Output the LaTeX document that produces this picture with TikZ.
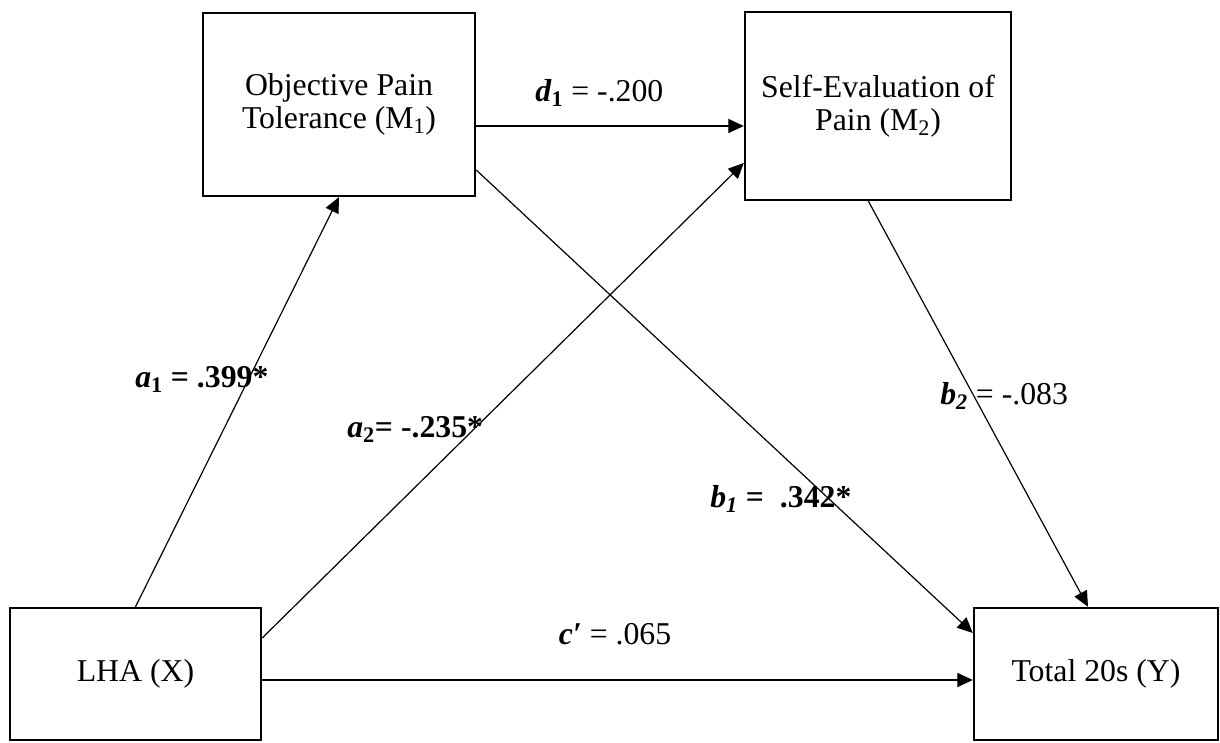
\documentclass[tikz,border=0pt]{standalone}
\usepackage{fontspec}
\setmainfont{Liberation Serif}
\usepackage{tikz}
\usetikzlibrary{arrows.meta,positioning}

\begin{document}
\begin{tikzpicture}[
  every node/.style={font=\fontsize{22.6}{23.5}\selectfont},
  var/.style={rectangle, draw, line width=1.7pt, align=center, inner sep=0pt},
  coef/.style={inner sep=0pt, anchor=base west},
  arr/.style={-{Triangle[length=11pt, width=10pt]}, line width=0.85pt},
]
\useasboundingbox (0,0) rectangle (30.5,18.55);

% Mediators
\node[var, minimum width=6.8cm, minimum height=4.575cm] (m1) at (8.475, 15.94) {Objective Pain\\Tolerance (M\textsubscript{1})};
\node[var, minimum width=6.65cm, minimum height=4.7cm] (m2) at (21.95, 15.9) {Self-Evaluation of\\Pain (M\textsubscript{2})};

% Predictor and outcome
\node[var, minimum width=6.275cm, minimum height=3.3cm] (lha) at (3.3875, 1.7) {LHA (X)};
\node[var, minimum width=6.1cm, minimum height=3.3cm] (total) at (27.4, 1.7) {Total 20s (Y)};

% Paths
\draw[arr] (lha.north) -- (m1.south);
\draw[arr] ([yshift=0.9cm]lha.east) -- ([yshift=-1.425cm]m2.west);
\draw[arr] ([yshift=-0.54cm]m1.east) -- ([yshift=-0.54cm]m1.east -| m2.west);
\draw[arr] ([yshift=-1.64cm]m1.east) -- ([yshift=1.025cm]total.west);
\draw[arr] ([xshift=-0.24cm]m2.south) -- ([xshift=-0.2cm]total.north);
\draw[arr] ([yshift=-0.15cm]lha.east) -- ([yshift=-0.15cm]lha.east -| total.west);

% Coefficients
\node[coef] (la1) at (3.375, 8.85) {\textbf{\textit{a}\textsubscript{1} = .399*}};
\node[coef] (la2) at (8.675, 7.6) {\textbf{\textit{a}\textsubscript{2}= -.235*}};
\node[coef] (ld1) at (13.375, 16.0) {\textbf{\textit{d}\textsubscript{1}} = -.200};
\node[coef] (lb1) at (17.75, 5.85) {\textbf{\textit{b\textsubscript{1}} =\ \ .342*}};
\node[coef] (lb2) at (23.5, 8.425) {\textbf{\textit{b\textsubscript{2}}} = -.083};
\node[inner sep=0pt, anchor=base] (lc) at (15.375, 2.45) {\textbf{\textit{c′}} = .065};

\end{tikzpicture}
\end{document}
